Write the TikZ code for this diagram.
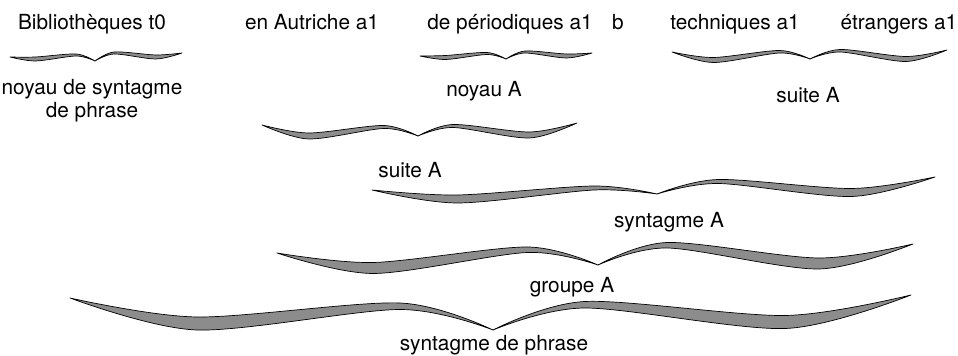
\documentclass[tikz,border=0pt]{standalone}
\usepackage{fontspec}
\setmainfont{TeX Gyre Heros}
\usepackage{tikz}
\newcommand\accolade[9]{\pgfmathsetmacro\accYl{(#2+#4)/2}\pgfmathsetmacro\accYr{(#6+#4)/2}%
\pgfmathsetmacro\accSl{#1+.3*(#3-#1)}\pgfmathsetmacro\accHl{#1+.78*(#3-#1)}\pgfmathsetmacro\accSr{#5-.3*(#5-#3)}\pgfmathsetmacro\accHr{#5-.78*(#5-#3)}%
\filldraw[accol] plot[smooth] coordinates {(#1,#2) (\accSl,\accYl+#7) (\accHl,\accYl-#8) (#3,#4)} -- plot[smooth] coordinates {(#3,#4) (\accHl,\accYl-#8+.5*#9) (\accSl,\accYl+#7+#9) (#1,#2)} -- cycle;%
\filldraw[accol] plot[smooth] coordinates {(#5,#6) (\accSr,\accYr+#7) (\accHr,\accYr-#8) (#3,#4)} -- plot[smooth] coordinates {(#3,#4) (\accHr,\accYr-#8+.5*#9) (\accSr,\accYr+#7+#9) (#5,#6)} -- cycle;}
\begin{document}
\begin{tikzpicture}[x=.5pt,y=-.5pt,every node/.style={font=\fontsize{10.4}{12}\selectfont,anchor=base,inner sep=0pt},accol/.style={fill=black!45,draw=black,line width=.35pt,line join=round}]
\useasboundingbox (0,0) rectangle (958,356);
\node (bib) at (92,30){Bibliothèques t0};\node (aut) at (312,30){en Autriche a1};\node (per) at (510,30){de périodiques a1};
\node (b) at (618,30){b};\node (tech) at (735,30){techniques a1};\node (etr) at (899,30){étrangers a1};
\accolade{10}{57}{95}{61}{182}{53}{-2}{5}{4}\node (nds) at (92,95){noyau de syntagme};\node (ndp) at (92,118){de phrase};
\accolade{420}{56}{506}{59}{592}{53}{-2}{5}{4}\node (noyA) at (484,97){noyau A};
\accolade{672}{52}{810}{59}{947}{50}{2}{5}{5}\node (suiteA) at (808,103){suite A};
\accolade{262}{125}{418}{136}{577}{123}{2.5}{5}{6}\node (suiteAm) at (410,178){suite A};
\accolade{372}{190}{657}{194}{935}{177}{3}{6}{8}\node (syntA) at (669,228){syntagme A};
\accolade{277}{253}{598}{265}{913}{244}{3.5}{12}{11}\node (grA) at (572,293){groupe A};
\accolade{70}{298}{493}{330}{911}{295}{3}{11}{13}\node (sp) at (494,351){syntagme de phrase};
\end{tikzpicture}
\end{document}
